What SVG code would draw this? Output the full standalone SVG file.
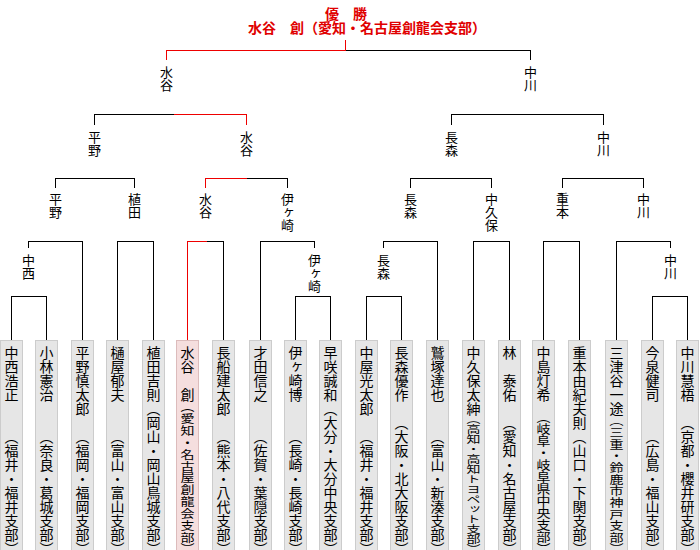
<svg xmlns="http://www.w3.org/2000/svg" width="700" height="550" viewBox="0 0 700 550">
<style>
text{font-family:"Noto Sans CJK JP","Noto Sans CJK SC",sans-serif;fill:#000}
.ttl{font-size:14px;font-weight:bold;fill:#e00000}
.lbl{font-size:13px;writing-mode:vertical-rl}
.nm{font-size:14px;writing-mode:vertical-rl}
.af{font-size:14px;writing-mode:vertical-rl;text-anchor:end}
.hp{font-feature-settings:"vhal" 1}
.box{fill:#e6e6e6;stroke:#cccccc;stroke-width:1}
.win{fill:#f5dede;stroke:#dcbcbc;stroke-width:1}
.ln{fill:none;stroke:#000;stroke-width:1;shape-rendering:crispEdges}
.rd{fill:none;stroke:#ee0000;stroke-width:1;shape-rendering:crispEdges}
</style>
<rect width="700" height="550" fill="#fff"/>
<g id="title">
<text class="ttl" x="325" y="19">優　勝</text>
<text class="ttl" x="248" y="33">水谷　創（愛知・名古屋創龍会支部）</text>
</g>
<g id="connectors">
<path class="ln" d="M346,50.5H530.5V60
M94.5,125V114.5H174 M451.5,125V114.5H603.5V125
M55.5,188V178.5H134.5V188 M246.5,178.5H287.5V188 M410.5,188V178.5H491.5V188 M562.5,188V178.5H643.5V188
M28.5,248V241.5H82.5V341 M117.5,341V241.5H153.5V341 M207,241.5H223.5V341 M260.5,341V241.5H314.5V248
M383.5,248V241.5H437.5V341 M473.5,341V241.5H509.5V341 M543.5,341V241.5H579.5V341 M616.5,341V241.5H670.5V248
M11.5,341V296.5H46.5V341 M295.5,341V296.5H330.5V341 M366.5,341V296.5H401.5V341 M652.5,341V296.5H687.5V341"/>
<path class="rd" d="M345.5,40V50.5H166.5V60 M174,114.5H246.5V125 M205.5,188V178.5H246.5 M207,241.5H187.5V341"/>
</g>
<g id="labels">
<text class="lbl" x="166.5" y="66">水谷</text>
<text class="lbl" x="530.5" y="66">中川</text>
<text class="lbl" x="94.5" y="131">平野</text>
<text class="lbl" x="246.5" y="131">水谷</text>
<text class="lbl" x="451.5" y="131">長森</text>
<text class="lbl" x="603.5" y="131">中川</text>
<text class="lbl" x="55.5" y="193">平野</text>
<text class="lbl" x="134.5" y="193">植田</text>
<text class="lbl" x="205.5" y="193">水谷</text>
<text class="lbl" x="287.5" y="193">伊ヶ崎</text>
<text class="lbl" x="410.5" y="193">長森</text>
<text class="lbl" x="491.5" y="193">中久保</text>
<text class="lbl" x="562.5" y="193">重本</text>
<text class="lbl" x="643.5" y="193">中川</text>
<text class="lbl" x="28.5" y="254">中西</text>
<text class="lbl" x="314.5" y="254">伊ヶ崎</text>
<text class="lbl" x="383.5" y="254">長森</text>
<text class="lbl" x="670.5" y="254">中川</text>
</g>
<g id="p1"><rect class="box" x="0.5" y="340.5" width="22" height="210"/><text class="nm" x="11.5" y="346">中西浩正</text><text class="af" x="11.5" y="549"><tspan class="hp">（</tspan>福井・福井支部<tspan class="hp">）</tspan></text></g>
<g id="p2"><rect class="box" x="35.5" y="340.5" width="22" height="210"/><text class="nm" x="46.5" y="346">小林憲治</text><text class="af" x="46.5" y="549"><tspan class="hp">（</tspan>奈良・葛城支部<tspan class="hp">）</tspan></text></g>
<g id="p3"><rect class="box" x="71.5" y="340.5" width="22" height="210"/><text class="nm" x="82.5" y="346">平野慎太郎</text><text class="af" x="82.5" y="549"><tspan class="hp">（</tspan>福岡・福岡支部<tspan class="hp">）</tspan></text></g>
<g id="p4"><rect class="box" x="106.5" y="340.5" width="22" height="210"/><text class="nm" x="117.5" y="346">樋屋郁夫</text><text class="af" x="117.5" y="549"><tspan class="hp">（</tspan>富山・富山支部<tspan class="hp">）</tspan></text></g>
<g id="p5"><rect class="box" x="142.5" y="340.5" width="22" height="210"/><text class="nm" x="153.5" y="346">植田吉則</text><text class="af" x="153.5" y="549"><tspan class="hp">（</tspan>岡山・岡山鳥城支部<tspan class="hp">）</tspan></text></g>
<g id="p6"><rect class="win" x="176.5" y="340.5" width="22" height="210"/><text class="nm" x="187.5" y="346">水谷　創</text><text class="af" x="187.5" y="549" textLength="142" lengthAdjust="spacingAndGlyphs"><tspan class="hp">（</tspan>愛知・名古屋創龍会支部<tspan class="hp">）</tspan></text></g>
<g id="p7"><rect class="box" x="212.5" y="340.5" width="22" height="210"/><text class="nm" x="223.5" y="346">長船建太郎</text><text class="af" x="223.5" y="549"><tspan class="hp">（</tspan>熊本・八代支部<tspan class="hp">）</tspan></text></g>
<g id="p8"><rect class="box" x="249.5" y="340.5" width="22" height="210"/><text class="nm" x="260.5" y="346">才田信之</text><text class="af" x="260.5" y="549"><tspan class="hp">（</tspan>佐賀・葉隠支部<tspan class="hp">）</tspan></text></g>
<g id="p9"><rect class="box" x="284.5" y="340.5" width="22" height="210"/><text class="nm" x="295.5" y="346">伊ヶ崎博</text><text class="af" x="295.5" y="549"><tspan class="hp">（</tspan>長崎・長崎支部<tspan class="hp">）</tspan></text></g>
<g id="p10"><rect class="box" x="319.5" y="340.5" width="22" height="210"/><text class="nm" x="330.5" y="346">早咲誠和</text><text class="af" x="330.5" y="549"><tspan class="hp">（</tspan>大分・大分中央支部<tspan class="hp">）</tspan></text></g>
<g id="p11"><rect class="box" x="355.5" y="340.5" width="22" height="210"/><text class="nm" x="366.5" y="346">中屋光太郎</text><text class="af" x="366.5" y="549"><tspan class="hp">（</tspan>福井・福井支部<tspan class="hp">）</tspan></text></g>
<g id="p12"><rect class="box" x="390.5" y="340.5" width="22" height="210"/><text class="nm" x="401.5" y="346">長森優作</text><text class="af" x="401.5" y="549"><tspan class="hp">（</tspan>大阪・北大阪支部<tspan class="hp">）</tspan></text></g>
<g id="p13"><rect class="box" x="426.5" y="340.5" width="22" height="210"/><text class="nm" x="437.5" y="346">鷲塚達也</text><text class="af" x="437.5" y="549"><tspan class="hp">（</tspan>富山・新湊支部<tspan class="hp">）</tspan></text></g>
<g id="p14"><rect class="box" x="462.5" y="340.5" width="22" height="210"/><text class="nm" x="473.5" y="346">中久保太紳</text><text class="af" x="473.5" y="549" textLength="130" lengthAdjust="spacingAndGlyphs"><tspan class="hp">（</tspan>高知・高知トヨペット支部<tspan class="hp">）</tspan></text></g>
<g id="p15"><rect class="box" x="498.5" y="340.5" width="22" height="210"/><text class="nm" x="509.5" y="346">林　泰佑</text><text class="af" x="509.5" y="549"><tspan class="hp">（</tspan>愛知・名古屋支部<tspan class="hp">）</tspan></text></g>
<g id="p16"><rect class="box" x="532.5" y="340.5" width="22" height="210"/><text class="nm" x="543.5" y="346">中島灯希</text><text class="af" x="543.5" y="549" textLength="132" lengthAdjust="spacingAndGlyphs"><tspan class="hp">（</tspan>岐阜・岐阜県中央支部<tspan class="hp">）</tspan></text></g>
<g id="p17"><rect class="box" x="568.5" y="340.5" width="22" height="210"/><text class="nm" x="579.5" y="346">重本由紀夫則</text><text class="af" x="579.5" y="549"><tspan class="hp">（</tspan>山口・下関支部<tspan class="hp">）</tspan></text></g>
<g id="p18"><rect class="box" x="605.5" y="340.5" width="22" height="210"/><text class="nm" x="616.5" y="346">三津谷一途</text><text class="af" x="616.5" y="549" textLength="128" lengthAdjust="spacingAndGlyphs"><tspan class="hp">（</tspan>三重・鈴鹿市神戸支部<tspan class="hp">）</tspan></text></g>
<g id="p19"><rect class="box" x="641.5" y="340.5" width="22" height="210"/><text class="nm" x="652.5" y="346">今泉健司</text><text class="af" x="652.5" y="549"><tspan class="hp">（</tspan>広島・福山支部<tspan class="hp">）</tspan></text></g>
<g id="p20"><rect class="box" x="676.5" y="340.5" width="22" height="210"/><text class="nm" x="687.5" y="346">中川慧梧</text><text class="af" x="687.5" y="549"><tspan class="hp">（</tspan>京都・櫻井研支部<tspan class="hp">）</tspan></text></g>
</svg>
